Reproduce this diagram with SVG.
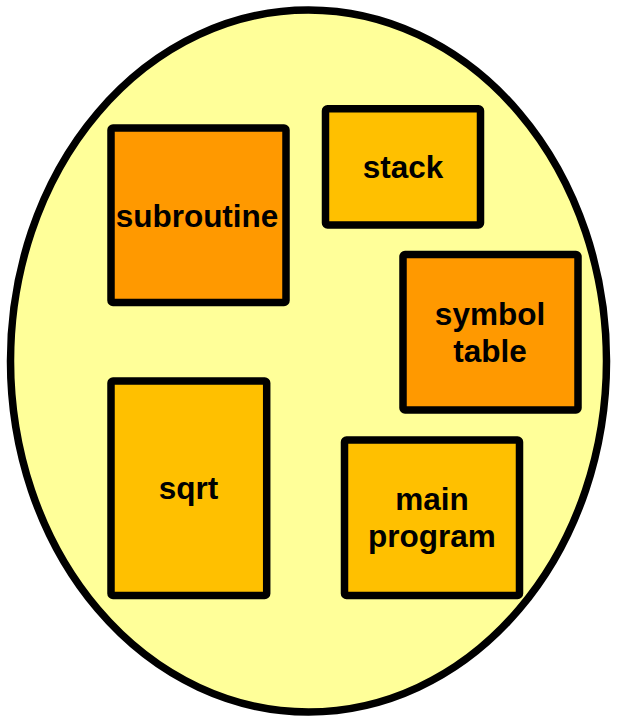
<svg xmlns="http://www.w3.org/2000/svg" width="617" height="716" viewBox="0 0 617 716">
<style>
.box{stroke:#000;stroke-width:7.5;stroke-linejoin:round}
.orange{fill:#FF9900}
.amber{fill:#FFC000}
.lbl{font-family:"Liberation Sans",Arial,sans-serif;font-weight:bold;font-size:31.5px;fill:#000;text-anchor:middle}
</style>
<rect width="617" height="716" fill="#fff"/>
<g id="container">
<ellipse cx="308.5" cy="361" rx="298" ry="351" fill="#FFFF99" stroke="#000" stroke-width="7.5"/>
</g>
<g id="connectors"></g>
<g id="subroutine">
<rect class="box orange" x="111" y="128" width="175" height="174.5" rx="2"/>
<text class="lbl" x="197" y="227">subroutine</text>
</g>
<g id="stack">
<rect class="box amber" x="325.5" y="108.7" width="155" height="116.3" rx="2"/>
<text class="lbl" x="403" y="178">stack</text>
</g>
<g id="symbol-table">
<rect class="box orange" x="403" y="254.5" width="175" height="155.5" rx="2"/>
<text class="lbl" x="490" y="325">symbol</text>
<text class="lbl" x="490" y="361.5">table</text>
</g>
<g id="sqrt">
<rect class="box amber" x="111" y="381" width="155.7" height="214.5" rx="2"/>
<text class="lbl" x="188.5" y="499">sqrt</text>
</g>
<g id="main-program">
<rect class="box amber" x="344.5" y="440" width="175" height="155.5" rx="2"/>
<text class="lbl" x="432" y="510">main</text>
<text class="lbl" x="432" y="547">program</text>
</g>
</svg>
